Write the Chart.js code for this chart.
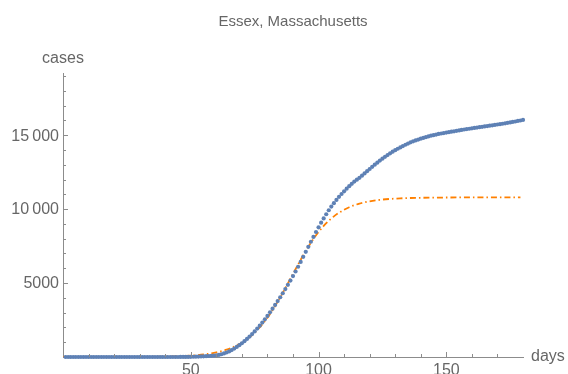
<!DOCTYPE html>
<html>
<head>
<meta charset="utf-8">
<script src="https://cdn.jsdelivr.net/npm/chart.js@4"></script>
<style>
  html, body { margin: 0; padding: 0; background: #fff; }
  #wrap { width: 568px; height: 374px; }
</style>
</head>
<body>
<div id="wrap"><canvas id="chart" width="568" height="374"></canvas></div>
<script>
// reported cumulative cases, day 1..180
const caseDays = [];
for (let d = 1; d <= 180; d++) caseDays.push(d);

const cases = [
    0, 0, 0, 0, 0, 0, 0, 0, 0, 0,
    0, 0, 0, 0, 0, 0, 0, 0, 0, 0,
    0, 0, 0, 0, 0, 0, 0, 0, 0, 0,
    0, 0, 0, 0, 0, 0, 0, 0, 0, 0,
    0, 0, 1, 1, 1, 2, 3, 5, 8, 12,
    16, 21, 28, 36, 45, 55, 66, 78, 90, 105,
    140, 185, 240, 305, 380, 470, 570, 680, 800, 930,
    1070, 1220, 1380, 1550, 1730, 1920, 2120, 2330, 2550, 2780,
    3020, 3270, 3520, 3780, 4040, 4310, 4590, 4880, 5170, 5470,
    5780, 6100, 6430, 6770, 7110, 7450, 7790, 8120, 8450, 8770,
    9080, 9370, 9650, 9920, 10170, 10400, 10620, 10830, 11020, 11200,
    11380, 11550, 11710, 11860, 11990, 12110, 12260, 12410, 12560, 12710,
    12860, 13000, 13140, 13280, 13410, 13530, 13650, 13770, 13880, 13980,
    14080, 14170, 14260, 14350, 14430, 14510, 14580, 14640, 14700, 14760,
    14810, 14860, 14910, 14960, 15000, 15040, 15080, 15110, 15140, 15170,
    15200, 15230, 15260, 15290, 15320, 15350, 15380, 15410, 15430, 15460,
    15490, 15510, 15540, 15560, 15590, 15610, 15640, 15660, 15690, 15720,
    15740, 15770, 15800, 15830, 15860, 15890, 15920, 15960, 15990, 16030
];

// fitted curve (dot-dashed), sampled off the plot
const fitDays = [0, 10, 20, 30, 40, 44, 48, 50, 52, 54, 56, 58, 60, 62, 64, 66, 68, 70,
    72, 74, 76, 78, 80, 82, 84, 86, 88, 90, 92, 94, 96, 98, 100, 102, 104, 106, 108,
    110, 112, 114, 116, 118, 120, 124, 128, 132, 136, 140, 150, 160, 170, 179];
const fitCases = [0, 1, 3, 9, 29, 47, 76, 96, 121, 154, 195, 246, 311, 393, 494, 621, 777, 969,
    1203, 1484, 1819, 2211, 2662, 3172, 3735, 4340, 4975, 5622, 6262, 6877, 7454, 7981, 8450, 8859, 9212, 9508, 9756,
    9959, 10126, 10261, 10369, 10456, 10526, 10625, 10687, 10726, 10750, 10765, 10783, 10788, 10790, 10790];

// tick labels and minor tick steps
const xMajor = [50, 100, 150];
const yMajor = [5000, 10000, 15000];
const xMinorStep = 10;
const yMinorStep = 1000;

const title = "Essex, Massachusetts";
const xTitle = "days";
const yTitle = "cases";

const grey = "#666666";
const axisGrey = "#8c8c8c";
const font = "Liberation Sans, Arial, sans-serif";

function fmt(v) {
    // thin space only for 5+ digits
    const s = String(Math.round(v));
    if (s.length <= 4) return s;
    return s.slice(0, s.length - 3) + "\u2009" + s.slice(-3);
}

const axesPlugin = {
    id: "axesPlugin",
    afterDraw(chart) {
        const ctx = chart.ctx;
        const x = chart.scales.x;
        const y = chart.scales.y;
        const area = chart.chartArea;
        ctx.save();

        // inward tick marks
        ctx.strokeStyle = axisGrey;
        ctx.lineWidth = 1;
        ctx.beginPath();
        for (let v = xMinorStep; v < x.max; v += xMinorStep) {
            const px = Math.round(x.getPixelForValue(v)) + 0.5;
            const len = xMajor.includes(v) ? 5 : 3;
            ctx.moveTo(px, area.bottom);
            ctx.lineTo(px, area.bottom - len);
        }
        for (let v = yMinorStep; v < y.max; v += yMinorStep) {
            const py = Math.round(y.getPixelForValue(v)) + 0.5;
            const len = yMajor.includes(v) ? 5 : 3;
            ctx.moveTo(area.left, py);
            ctx.lineTo(area.left + len, py);
        }
        ctx.stroke();

        // tick labels
        ctx.fillStyle = grey;
        ctx.font = "16px " + font;
        ctx.textAlign = "center";
        ctx.textBaseline = "top";
        xMajor.forEach(v => ctx.fillText(String(v), x.getPixelForValue(v), area.bottom + 6));
        ctx.textAlign = "right";
        ctx.textBaseline = "middle";
        yMajor.forEach(v => ctx.fillText(fmt(v), area.left - 4, y.getPixelForValue(v) + 1));

        // titles
        ctx.textBaseline = "alphabetic";
        ctx.font = "15px " + font;
        ctx.textAlign = "center";
        ctx.fillText(title, (area.left + area.right) / 2, 26);

        ctx.font = "16px " + font;
        ctx.fillText(yTitle, area.left, 63);

        ctx.textAlign = "left";
        ctx.fillText(xTitle, area.right + 8, area.bottom + 4);
        ctx.restore();
    }
};

new Chart(document.getElementById("chart"), {
    type: "line",
    data: {
        datasets: [
            {
                label: "cases",
                data: caseDays.map((d, i) => ({ x: d, y: cases[i] })),
                showLine: false,
                pointRadius: 2.1,
                pointBorderWidth: 0,
                pointBackgroundColor: "#5e81b5",
                pointBorderColor: "#5e81b5",
                clip: false
            },
            {
                label: "fit",
                data: fitDays.map((d, i) => ({ x: d, y: fitCases[i] })),
                borderColor: "#ff8000",
                borderWidth: 1.8,
                borderDash: [6, 3, 1.5, 3],
                pointRadius: 0,
                cubicInterpolationMode: "monotone",
                fill: false
            }
        ]
    },
    options: {
        responsive: false,
        animation: false,
        events: [],
        layout: { padding: { top: 73, right: 45, left: 0, bottom: 0 } },
        plugins: {
            legend: { display: false },
            title: { display: false },
            tooltip: { enabled: false }
        },
        scales: {
            x: {
                type: "linear",
                min: 0,
                max: 180,
                grid: { display: false },
                border: { display: true, color: axisGrey, width: 1 },
                ticks: { display: false },
                afterFit(scale) { scale.height = 17; }
            },
            y: {
                type: "linear",
                min: 0,
                max: 19200,
                grid: { display: false },
                border: { display: true, color: axisGrey, width: 1 },
                ticks: { display: false },
                afterFit(scale) { scale.width = 63; }
            }
        }
    },
    plugins: [axesPlugin]
});
</script>
</body>
</html>
